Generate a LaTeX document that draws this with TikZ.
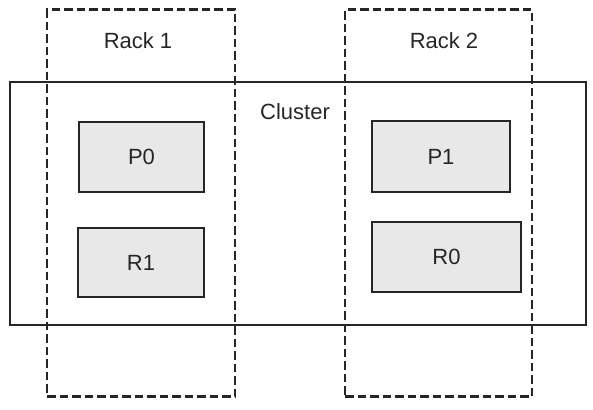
\documentclass[tikz,border=0pt]{standalone}
\usepackage{fontspec}
\setmainfont{Liberation Sans}
\begin{document}
\begin{tikzpicture}[x=1pt,y=-1pt,
  every node/.style={font=\fontsize{22}{26}\selectfont, text=black!85, inner sep=0pt, outer sep=0pt},
  rackbox/.style={draw=black!85, line width=2.6pt, dash pattern=on 8.5pt off 4pt, rectangle},
  clusterbox/.style={draw=black!85, line width=2.8pt, rectangle},
  partbox/.style={draw=black!85, line width=2pt, fill=gray!18, rectangle}]
\useasboundingbox (0,0) rectangle (593,409);
\node[clusterbox, minimum width=576pt, minimum height=243pt] (cluster) at (298,203.5) {};
\node[rackbox, minimum width=188pt, minimum height=387pt] (rack1) at (141,203.25) {};
\node[rackbox, minimum width=187pt, minimum height=387pt] (rack2) at (438.5,203.25) {};
\node (rack1label) at (138,41) {Rack 1};
\node (rack2label) at (444,41) {Rack 2};
\node (clusterlabel) at (295,112) {Cluster};
\node[partbox, minimum width=125pt, minimum height=70pt] (p0) at (141.5,157) {P0};
\node[partbox, minimum width=126pt, minimum height=69pt] (r1) at (141,262.5) {R1};
\node[partbox, minimum width=138pt, minimum height=71pt] (p1) at (441,156.5) {P1};
\node[partbox, minimum width=149pt, minimum height=70pt] (r0) at (446.5,257) {R0};
\end{tikzpicture}
\end{document}
